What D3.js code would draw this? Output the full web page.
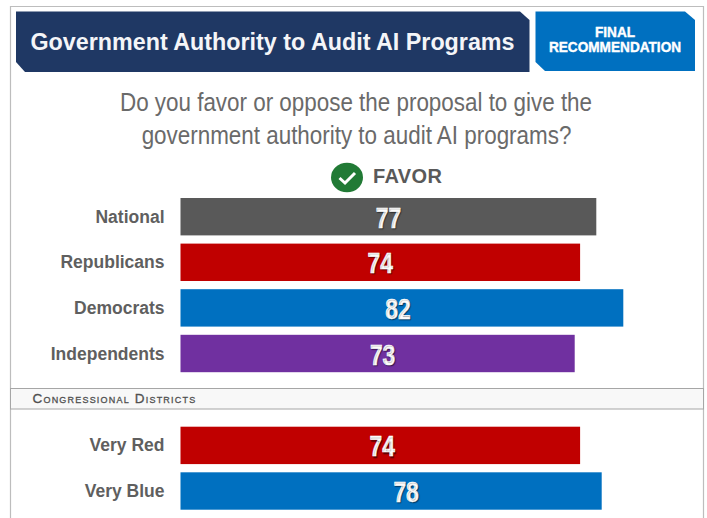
<!DOCTYPE html>
<html>
<head>
<meta charset="utf-8">
<script src="https://d3js.org/d3.v7.min.js"></script>
<style>
  html, body { margin: 0; padding: 0; background: #fff; overflow: hidden; }
  svg { display: block; }
  text { font-family: "Liberation Sans", Arial, sans-serif; }
</style>
</head>
<body>
<svg id="chart" width="707" height="518"></svg>
<script>
const partyLabels = ["National", "Republicans", "Democrats", "Independents"];
const partyValues = [77, 74, 82, 73];
const partyColors = ["#595959", "#c00000", "#0070c0", "#7030a0"];

const districtLabels = ["Very Red", "Very Blue"];
const districtValues = [74, 78];
const districtColors = ["#c00000", "#0070c0"];

const svg = d3.select("#chart");

// 5.4px per point, bars start at the left edge of the range
const x = d3.scaleLinear().domain([0, 100]).range([180.5, 720.5]);

const yParty = d3.scaleBand().domain(partyLabels).range([198, 372.2]).paddingInner(0.18).paddingOuter(0);
const yDistrict = d3.scaleBand().domain(districtLabels).range([426.7, 509.7]).paddingInner(0.18).paddingOuter(0);

// outer frame, open at the bottom
svg.append("path")
   .attr("d", "M10.5,518V6.5H703.5V518")
   .attr("fill", "none")
   .attr("stroke", "#bdbdbd")
   .attr("stroke-width", 1.2);

// header shapes with clipped corners
svg.append("path")
   .attr("d", "M16,11.5H520L529.5,20V72H25L16,62Z")
   .attr("fill", "#1f3864");
svg.append("path")
   .attr("d", "M535.5,11.5H685L695,20V71H545L535.5,62Z")
   .attr("fill", "#0070c0");

svg.append("text")
   .attr("x", 272.5).attr("y", 50)
   .attr("text-anchor", "middle")
   .attr("font-size", 23.3).attr("font-weight", 700)
   .attr("fill", "#f4f5f8")
   .text("Government Authority to Audit AI Programs");

const badge = svg.append("g")
   .attr("fill", "#fff").attr("stroke", "#fff").attr("stroke-width", 0.4)
   .attr("font-weight", 700).attr("text-anchor", "middle");
badge.append("text").attr("transform", "translate(615,36.7) scale(0.94,1)").attr("font-size", 14.5).text("FINAL");
badge.append("text").attr("transform", "translate(615,52.3) scale(0.94,1)").attr("font-size", 14.5).text("RECOMMENDATION");

// question
const question = ["Do you favor or oppose the proposal to give the", "government authority to audit AI programs?"];
svg.selectAll("text.question")
   .data(question)
   .enter()
   .append("text")
   .attr("class", "question")
   .attr("text-anchor", "middle")
   .attr("font-size", 26)
   .attr("fill", "#6a6a6a")
   .attr("transform", (d, i) => `translate(${i ? 356.5 : 356},${i ? 144 : 110.5}) scale(0.862,1)`)
   .text(d => d);

// favor marker
svg.append("ellipse").attr("cx", 347).attr("cy", 177.5).attr("rx", 16).attr("ry", 14.7).attr("fill", "#217a35");
svg.append("path")
   .attr("d", "M339.5,178L345,183L355,173")
   .attr("fill", "none").attr("stroke", "#fff").attr("stroke-width", 3);
svg.append("text")
   .attr("x", 373).attr("y", 182.5)
   .attr("font-size", 20).attr("font-weight", 700)
   .attr("letter-spacing", 0.4)
   .attr("fill", "#595959")
   .text("FAVOR");

function drawGroup(labels, values, colors, y, nudges) {
  const rows = labels.map((label, i) => ({ label, value: values[i], color: colors[i], nudge: nudges[i] }));
  const g = svg.append("g");

  g.selectAll("rect")
   .data(rows)
   .enter()
   .append("rect")
   .attr("x", x(0))
   .attr("y", d => y(d.label))
   .attr("width", d => x(d.value) - x(0))
   .attr("height", y.bandwidth())
   .attr("fill", d => d.color);

  g.selectAll("text.cat")
   .data(rows)
   .enter()
   .append("text")
   .attr("class", "cat")
   .attr("x", 164.5)
   .attr("y", d => y(d.label) + y.bandwidth() / 2 + 6)
   .attr("text-anchor", "end")
   .attr("font-size", 17.5).attr("font-weight", 700)
   .attr("fill", "#5f5f5f")
   .text(d => d.label);

  // value labels are narrow, so squeeze them horizontally; they sit near the bar centre, not exactly on it
  g.selectAll("text.val")
   .data(rows)
   .enter()
   .append("text")
   .attr("class", "val")
   .attr("transform", d => `translate(${(x(0) + x(d.value)) / 2 + d.nudge},${y(d.label) + y.bandwidth() / 2 + 11}) scale(0.76,1)`)
   .attr("text-anchor", "middle")
   .attr("font-size", 30).attr("font-weight", 700)
   .attr("fill", "#fff")
   .attr("stroke", "#fff").attr("stroke-width", 0.6)
   .style("text-shadow", "1px 1px 1px rgba(0,0,0,0.45)")
   .text(d => d.value);
}

drawGroup(partyLabels, partyValues, partyColors, yParty, [0, 0, -4, 5]);
drawGroup(districtLabels, districtValues, districtColors, yDistrict, [2, 15]);

// section band
svg.append("rect")
   .attr("x", 10.5).attr("y", 388.5)
   .attr("width", 693).attr("height", 20.5)
   .attr("fill", "#f8f8f8")
   .attr("stroke", "#a6a6a6").attr("stroke-width", 1);
svg.append("text")
   .attr("x", 32.5).attr("y", 403)
   .attr("font-size", 13.5).attr("font-weight", 400)
   .attr("letter-spacing", 1.2)
   .attr("fill", "#505050")
   .attr("stroke", "#505050").attr("stroke-width", 0.3)
   .style("font-variant", "small-caps")
   .text("Congressional Districts");
</script>
</body>
</html>
